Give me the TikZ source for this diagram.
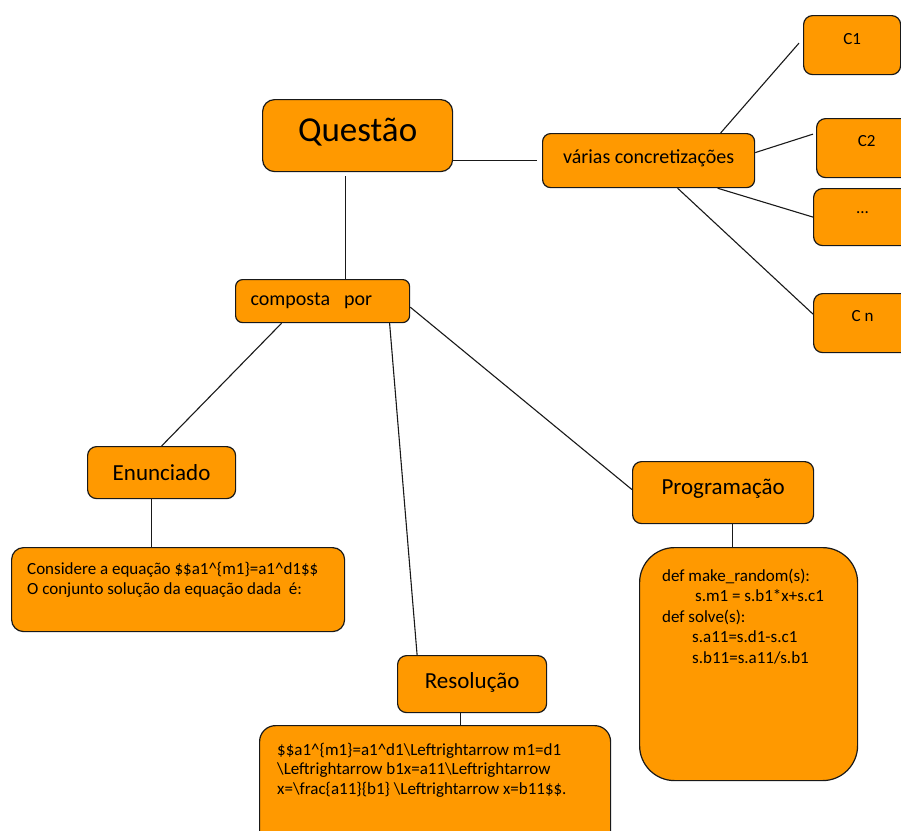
\documentclass[tikz,border=0pt]{standalone}
\usepackage{fontspec}
\setmainfont{Carlito}
\definecolor{boxorange}{RGB}{255,153,0}

\tikzset{
  box/.style={draw=black!90, fill=boxorange, line width=1.2pt, rounded corners=9pt,
    inner sep=0pt, anchor=north west},
  link/.style={draw=black!90, line width=1.1pt},
  small/.style={font=\fontsize{17}{20}\selectfont},
  boxtext/.style={anchor=base west, align=left, inner sep=0pt, font=\fontsize{17}{20.5}\selectfont},
}

\begin{document}
\begin{tikzpicture}[x=1pt, y=-1pt]
  \useasboundingbox (0,0) rectangle (901,830);
  \clip (0,0) rectangle (901,830);

  % top row
  \node[box, rounded corners=12pt, minimum width=190pt, minimum height=72pt,
    font=\fontsize{35}{40}\selectfont, text height=23pt, text depth=10.5pt] (quest) at (262,99) {Questão};
  \node[box, rounded corners=8pt, minimum width=212pt, minimum height=54pt,
    font=\fontsize{20}{24}\selectfont, text height=13pt, text depth=6.5pt] (var) at (542,133) {várias concretizações};

  % concretizations
  \node[box, small, minimum width=97pt, minimum height=59pt, text height=11pt, text depth=12.3pt] (c1) at (803,15) {C1};
  \node[box, small, minimum width=100pt, minimum height=59pt, text height=11pt, text depth=14.3pt] (c2) at (816,118) {C2};
  \node[box, small, minimum width=98pt, minimum height=57pt, text height=11pt, text depth=17.6pt] (dots) at (813,188) {...};
  \node[box, small, minimum width=98pt, minimum height=59pt, text height=11pt, text depth=14.3pt] (cn) at (813,293) {C n};

  % composta por
  \node[box, rounded corners=7pt, minimum width=174pt, minimum height=43pt, inner xsep=15pt,
    text width=144pt, align=left, font=\fontsize{20}{24}\selectfont] (comp) at (235,279) {composta\hspace{14pt}por};

  % parts
  \node[box, minimum width=148pt, minimum height=52pt, font=\fontsize{23}{27}\selectfont] (enun) at (87,446) {Enunciado};
  \node[box, minimum width=149pt, minimum height=57pt, font=\fontsize{23}{27}\selectfont,
    text height=15pt, text depth=6.5pt] (reso) at (397,655) {Resolução};
  \node[box, minimum width=181pt, minimum height=62pt, font=\fontsize{23}{27}\selectfont,
    text height=15pt, text depth=10.5pt] (prog) at (632,461) {Programação};

  % contents (base = last line)
  \node[box, rounded corners=12pt, minimum width=333pt, minimum height=84pt] (cons) at (11,547) {};
  \node[boxtext] (cons-t) at ([shift={(16,47.5)}]cons.north west)
    {Considere a equação \$\$a1\textasciicircum\{m1\}=a1\textasciicircum d1\$\$\\
     O conjunto solução da equação dada~ é:};

  \node[box, rounded corners=16pt, minimum width=351pt, minimum height=130pt] (resbox) at (259,725) {};
  \node[boxtext, font=\fontsize{17}{19.5}\selectfont] (res-t) at ([shift={(18,69)}]resbox.north west)
    {\$\$a1\textasciicircum\{m1\}=a1\textasciicircum d1\textbackslash Leftrightarrow m1=d1\\
     \textbackslash Leftrightarrow b1x=a11\textbackslash Leftrightarrow\\
     x=\textbackslash frac\{a11\}\{b1\} \textbackslash Leftrightarrow x=b11\$\$.};

  \node[box, rounded corners=35pt, minimum width=218pt, minimum height=233pt] (code) at (639,547) {};
  \node[boxtext] (code-t) at ([shift={(23,116)}]code.north west)
    {def make\_random(s):\\
     \hspace*{33pt}s.m1 = s.b1*x+s.c1\\
     def solve(s):\\
     \hspace*{30pt}s.a11=s.d1-s.c1\\
     \hspace*{30pt}s.b11=s.a11/s.b1};

  % connectors
  \draw[link] ([xshift=-12pt,yshift=-4pt]quest.south) -- ([xshift=-12pt]quest.south |- comp.north);
  \draw[link] (quest.east |- var.west) -- ([xshift=-5pt]var.west);
  \draw[link] ([xshift=72pt]var.north) -- ([xshift=-4pt,yshift=2pt]c1.west);
  \draw[link] ([yshift=8pt]var.east) -- ([xshift=-3pt,yshift=14pt]c2.west);
  \draw[link] ([xshift=69pt]var.south) -- (dots.west);
  \draw[link] ([xshift=29pt]var.south) -- ([yshift=9pt]cn.west);
  \draw[link] ([xshift=-41pt]comp.south) -- (enun.north);
  \draw[link] ([xshift=67pt]comp.south) -- ([xshift=-55pt]reso.north);
  \draw[link] ([yshift=-6pt]comp.east) -- ([yshift=3pt]prog.west);
  \draw[link] ([xshift=-10pt]enun.south) -- ([xshift=-10pt]enun.south |- cons.north);
  \draw[link] ([xshift=-12pt]reso.south) -- ([xshift=-12pt]reso.south |- resbox.north);
  \draw[link] ([xshift=9pt]prog.south) -- ([xshift=9pt]prog.south |- code.north);
\end{tikzpicture}
\end{document}
